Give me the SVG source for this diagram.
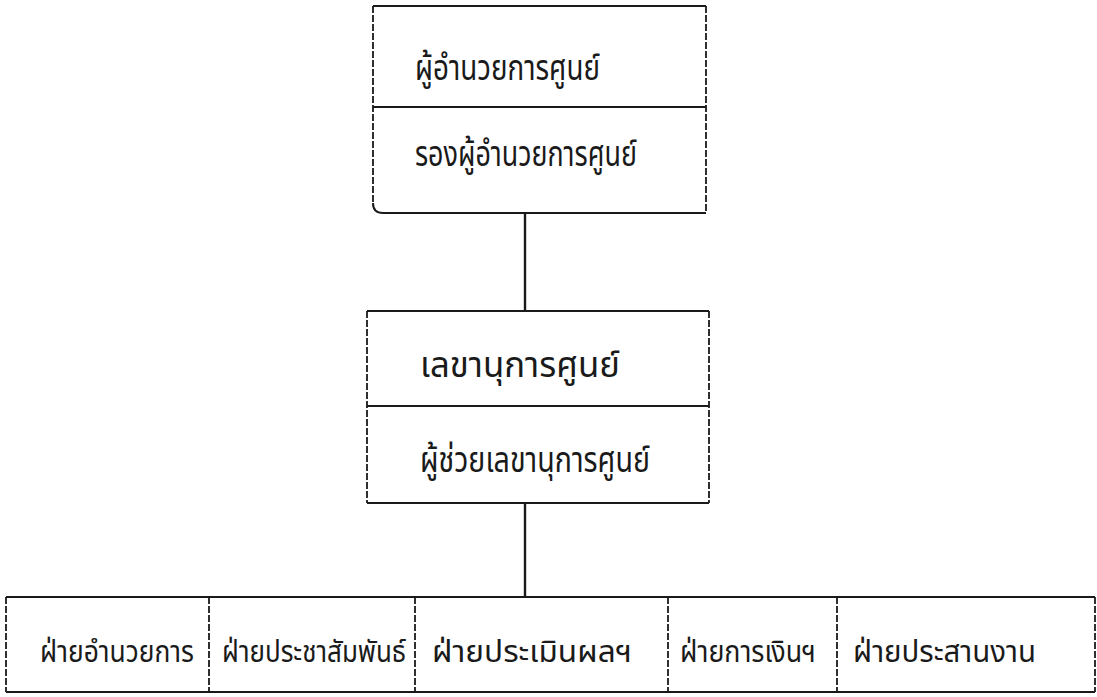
<svg xmlns="http://www.w3.org/2000/svg" width="1097" height="697" viewBox="0 0 1097 697">
  <style>
    .box { fill: none; stroke: #1a1a1a; stroke-width: 2; }
    .side { fill: none; stroke: #1a1a1a; stroke-width: 1.8; stroke-dasharray: 7 2; }
    .div { fill: none; stroke: #1a1a1a; stroke-width: 1.8; }
    .conn { fill: none; stroke: #1a1a1a; stroke-width: 2.4; }
    .t { font-family: "Noto Sans Thai", "Noto Sans", "DejaVu Sans", sans-serif; font-size: 35px; fill: #1a1a1a; }
    .b { font-family: "Noto Sans Thai", "Noto Sans", "DejaVu Sans", sans-serif; font-size: 30px; fill: #1a1a1a; }
  </style>
  <rect x="0" y="0" width="1097" height="697" fill="#ffffff"/>

  <g id="connectors">
    <line class="conn" x1="525" y1="213" x2="525" y2="311"/>
    <line class="conn" x1="525" y1="503" x2="525" y2="597"/>
  </g>

  <g id="node-director">
    <path class="box" d="M373,6 H706"/>
    <path class="box" d="M706,213 H383 Q373,213 373,203"/>
    <line class="side" x1="373" y1="6" x2="373" y2="203"/>
    <line class="side" x1="706" y1="6" x2="706" y2="213"/>
    <line class="div" x1="373" y1="107" x2="706" y2="107"/>
    <text class="t" x="415" y="80" textLength="185" lengthAdjust="spacingAndGlyphs">ผู้อำนวยการศูนย์</text>
    <text class="t" x="415" y="166" textLength="222" lengthAdjust="spacingAndGlyphs">รองผู้อำนวยการศูนย์</text>
  </g>

  <g id="node-secretary">
    <line class="box" x1="367" y1="311" x2="709" y2="311"/>
    <line class="box" x1="367" y1="503" x2="709" y2="503"/>
    <line class="side" x1="367" y1="311" x2="367" y2="503"/>
    <line class="side" x1="709" y1="311" x2="709" y2="503"/>
    <line class="div" x1="367" y1="406" x2="709" y2="406"/>
    <text class="t" x="420" y="377" textLength="200" lengthAdjust="spacingAndGlyphs">เลขานุการศูนย์</text>
    <text class="t" x="420" y="472" textLength="230" lengthAdjust="spacingAndGlyphs">ผู้ช่วยเลขานุการศูนย์</text>
  </g>

  <g id="node-departments">
    <line class="box" x1="6" y1="597" x2="1095" y2="597"/>
    <line class="box" x1="6" y1="692" x2="1095" y2="692"/>
    <line class="side" x1="6" y1="597" x2="6" y2="692"/>
    <line class="side" x1="1095" y1="597" x2="1095" y2="692"/>
    <line class="side" x1="209" y1="597" x2="209" y2="692"/>
    <line class="side" x1="415" y1="597" x2="415" y2="692"/>
    <line class="side" x1="668" y1="597" x2="668" y2="692"/>
    <line class="side" x1="837" y1="597" x2="837" y2="692"/>
  </g>
  <g id="node-dept-admin">
    <text class="b" x="40" y="662" textLength="154" lengthAdjust="spacingAndGlyphs">ฝ่ายอำนวยการ</text>
  </g>
  <g id="node-dept-pr">
    <text class="b" x="222" y="662" textLength="184" lengthAdjust="spacingAndGlyphs">ฝ่ายประชาสัมพันธ์</text>
  </g>
  <g id="node-dept-eval">
    <text class="b" x="432" y="662" textLength="200" lengthAdjust="spacingAndGlyphs">ฝ่ายประเมินผลฯ</text>
  </g>
  <g id="node-dept-finance">
    <text class="b" x="680" y="662" textLength="136" lengthAdjust="spacingAndGlyphs">ฝ่ายการเงินฯ</text>
  </g>
  <g id="node-dept-coord">
    <text class="b" x="853" y="662" textLength="183" lengthAdjust="spacingAndGlyphs">ฝ่ายประสานงาน</text>
  </g>
</svg>
